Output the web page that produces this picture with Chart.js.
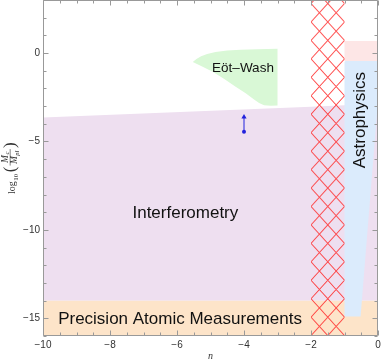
<!DOCTYPE html>
<html><head><meta charset="utf-8">
<script src="https://cdn.jsdelivr.net/npm/chart.js@4.4.0/dist/chart.umd.min.js"></script>
<style>html,body{margin:0;padding:0;background:#fff;}canvas{display:block;}</style>
</head><body>
<canvas id="c" width="382" height="363"></canvas>
<script>
// ---- axis ranges and ticks ----
const nRange = [-10, 0];
const logMRange = [-16, 3];
const xTicks = [-10, -8, -6, -4, -2, 0];
const xTickLabels = ['−10', '−8', '−6', '−4', '−2', '0'];
const yTicks = [-15, -10, -5, 0];
const yTickLabels = ['−15', '−10', '−5', '0'];

// ---- region boundaries: n and log10(Mc/Mpl) ----
const interferometryN    = [-10, -10, -2, 0, 0, -10];
const interferometryLogM = [-14, -3.65, -3.03, -2.87, -14, -14];

const atomicN    = [-10, -10, 0, 0, -10];
const atomicLogM = [-16, -14, -14, -16, -16];

const eotWashN    = [-5.53, -5.42, -5.28, -5.1, -4.85, -4.5, -4.1, -3.6, -3.0, -3.0, -3.2, -3.4, -3.55, -3.7, -3.95, -4.25, -4.6, -4.95, -5.25, -5.45, -5.53];
const eotWashLogM = [-0.5, -0.33, -0.18, -0.05, 0.06, 0.14, 0.19, 0.22, 0.24, -2.97, -2.98, -2.95, -2.83, -2.62, -2.28, -1.9, -1.46, -1.05, -0.76, -0.58, -0.5];

const astroN    = [-1, -0.97, 0, 0, -0.52, -1, -1];
const astroLogM = [-0.5, -0.45, -0.45, -2.7, -14.9, -14.9, -0.5];

const pinkN    = [-1, 0, 0, -1, -1];
const pinkLogM = [0.68, 0.68, -0.45, -0.45, 0.68];

const hatchN    = [-2, -1, -1, -2, -2];
const hatchLogM = [3, 3, -16, -16, 3];

const arrowN    = [-4, -4];
const arrowLogM = [-4.45, -3.62];

// ---- text annotations (placed in data coordinates) ----
const annotations = [
  {text: 'Interferometry', n: -5.75, logM: -9.04, size: 17, rot: 0},
  {text: 'Precision Atomic Measurements', n: -5.91, logM: -15.03, size: 17, rot: 0},
  {text: 'Eöt–Wash', n: -4.03, logM: -0.85, size: 13.5, rot: 0},
  {text: 'Astrophysics', n: -0.52, logM: -3.79, size: 17, rot: -Math.PI / 2}
];

function pts(ns, vs) { return ns.map((n, i) => ({x: n, y: vs[i]})); }

// diamond hatch pattern
const tile = document.createElement('canvas');
tile.width = 67; tile.height = 74;
(function () {
  const g = tile.getContext('2d');
  g.strokeStyle = 'rgba(255,45,45,0.8)';
  g.lineWidth = 2;
  g.beginPath();
  for (let k = -3; k <= 5; k++) {
    const x0 = k * 33.5;
    g.moveTo(x0, 0); g.lineTo(x0 + 67, 74);
    g.moveTo(x0, 0); g.lineTo(x0 - 67, 74);
  }
  g.stroke();
})();
const hatchPattern = document.getElementById('c').getContext('2d').createPattern(tile, 'repeat');

function region(ns, vs, color) {
  return {
    data: pts(ns, vs), showLine: true, fill: 'shape', backgroundColor: color,
    borderColor: 'transparent', borderWidth: 0, pointRadius: 0, tension: 0
  };
}

const layers = [
  region(interferometryN, interferometryLogM, '#eedff0'),
  region(atomicN, atomicLogM, '#fde4c9'),
  region(eotWashN, eotWashLogM, '#d9f8d6'),
  region(pinkN, pinkLogM, '#fde6e6'),
  region(astroN, astroLogM, '#dbebfc'),
  region(hatchN, hatchLogM, hatchPattern),
  {
    data: pts(arrowN, arrowLogM), showLine: true, fill: false,
    borderColor: '#2222dd', borderWidth: 1,
    pointStyle: ['circle', 'triangle'], pointRadius: [2, 3],
    pointBackgroundColor: '#2222dd', pointBorderColor: '#2222dd', pointBorderWidth: 0
  }
];
layers.forEach((d, i) => { d.order = layers.length - i; });

const SANS = '"Liberation Sans", Arial, sans-serif';
const SERIF = '"Liberation Serif", serif';

const decor = {
  id: 'decor',
  afterLayout(chart) {
    const {x} = chart.scales;
    const ox = x.getPixelForValue(-2);
    const oy = chart.chartArea.top + 3.5;
    hatchPattern.setTransform(new DOMMatrix([0.5, 0, 0, 18.45 / 37, ox, oy]));
  },
  afterDatasetsDraw(chart) {
    const {ctx, chartArea: a, scales: {x, y}} = chart;
    ctx.save();
    // annotations
    ctx.fillStyle = '#111';
    ctx.textAlign = 'center';
    ctx.textBaseline = 'middle';
    annotations.forEach(t => {
      ctx.save();
      ctx.translate(x.getPixelForValue(t.n), y.getPixelForValue(t.logM));
      ctx.rotate(t.rot);
      ctx.font = t.size + 'px ' + SANS;
      ctx.fillText(t.text, 0, 0);
      ctx.restore();
    });
    // frame
    ctx.strokeStyle = '#999';
    ctx.lineWidth = 1;
    const L = Math.round(a.left) + 0.5, R = Math.round(a.right) - 0.5;
    const T = Math.round(a.top) + 0.5, B = Math.round(a.bottom) - 0.5;
    ctx.beginPath();
    ctx.moveTo(L, T); ctx.lineTo(R, T); ctx.lineTo(R, B); ctx.lineTo(L, B); ctx.closePath();
    ctx.stroke();
    // inside ticks
    ctx.beginPath();
    for (let v = nRange[0]; v <= nRange[1] + 1e-9; v += 0.5) {
      const px = Math.round(x.getPixelForValue(v)) + 0.5;
      const major = Math.abs(v / 2 - Math.round(v / 2)) < 1e-6;
      const len = major ? 5 : 3;
      ctx.moveTo(px, B); ctx.lineTo(px, B - len);
      ctx.moveTo(px, T); ctx.lineTo(px, T + len);
    }
    for (let v = logMRange[0]; v <= logMRange[1] + 1e-9; v += 1) {
      const py = Math.round(y.getPixelForValue(v)) + 0.5;
      const major = Math.abs(v / 5 - Math.round(v / 5)) < 1e-6;
      const len = major ? 5 : 3;
      ctx.moveTo(L, py); ctx.lineTo(L + len, py);
      ctx.moveTo(R, py); ctx.lineTo(R - len, py);
    }
    ctx.stroke();
    // tick labels
    ctx.fillStyle = '#333';
    ctx.font = '10px ' + SANS;
    ctx.textAlign = 'center';
    ctx.textBaseline = 'top';
    xTicks.forEach((v, i) => ctx.fillText(xTickLabels[i], x.getPixelForValue(v), a.bottom + 4));
    ctx.textAlign = 'right';
    ctx.textBaseline = 'middle';
    yTicks.forEach((v, i) => ctx.fillText(yTickLabels[i], a.left - 3, y.getPixelForValue(v)));
    ctx.restore();
  },
  afterDraw(chart) {
    const {ctx, chartArea: a} = chart;
    ctx.save();
    ctx.fillStyle = '#333';
    // x title
    ctx.font = 'italic 10px ' + SERIF;
    ctx.textAlign = 'center';
    ctx.textBaseline = 'alphabetic';
    ctx.fillText('n', (a.left + a.right) / 2, 359);
    // y title: log10 (Mc / Mpl)
    ctx.translate(15, 194);
    ctx.rotate(-Math.PI / 2);
    ctx.textAlign = 'left';
    ctx.font = '10px ' + SERIF;
    ctx.fillText('log', 0, 0);
    let p = ctx.measureText('log').width;
    ctx.font = '7px ' + SERIF;
    ctx.fillText('10', p + 0.5, 2.5);
    p += ctx.measureText('10').width + 2;
    ctx.font = '17px ' + SERIF;
    ctx.fillText('(', p, -0.5);
    p += ctx.measureText('(').width + 1;
    // fraction
    ctx.font = 'italic 9.5px ' + SERIF;
    const wM = ctx.measureText('M').width;
    ctx.font = 'italic 6.5px ' + SERIF;
    const wc = ctx.measureText('c').width, wpl = ctx.measureText('pl').width;
    const wNum = wM + wc + 0.5, wDen = wM + wpl + 0.5;
    const wBar = Math.max(wNum, wDen) + 3;
    ctx.font = 'italic 9.5px ' + SERIF;
    ctx.fillText('M', p + (wBar - wNum) / 2, -7.5);
    ctx.fillText('M', p + (wBar - wDen) / 2, 2);
    ctx.font = 'italic 6.5px ' + SERIF;
    ctx.fillText('c', p + (wBar - wNum) / 2 + wM + 0.5, -6);
    ctx.fillText('pl', p + (wBar - wDen) / 2 + wM + 0.5, 3.5);
    ctx.fillRect(p, -5.2, wBar, 0.6);
    p += wBar + 1;
    ctx.font = '17px ' + SERIF;
    ctx.fillText(')', p, -0.5);
    ctx.restore();
  }
};

new Chart(document.getElementById('c'), {
  type: 'scatter',
  data: {datasets: layers},
  options: {
    responsive: false,
    animation: false,
    events: [],
    layout: {autoPadding: false, padding: {left: 43, right: 4, top: 0, bottom: 27}},
    plugins: {legend: {display: false}, tooltip: {enabled: false}},
    scales: {
      x: {type: 'linear', min: nRange[0], max: nRange[1], display: false},
      y: {type: 'linear', min: logMRange[0], max: logMRange[1], display: false}
    }
  },
  plugins: [decor]
});
</script>
</body></html>
